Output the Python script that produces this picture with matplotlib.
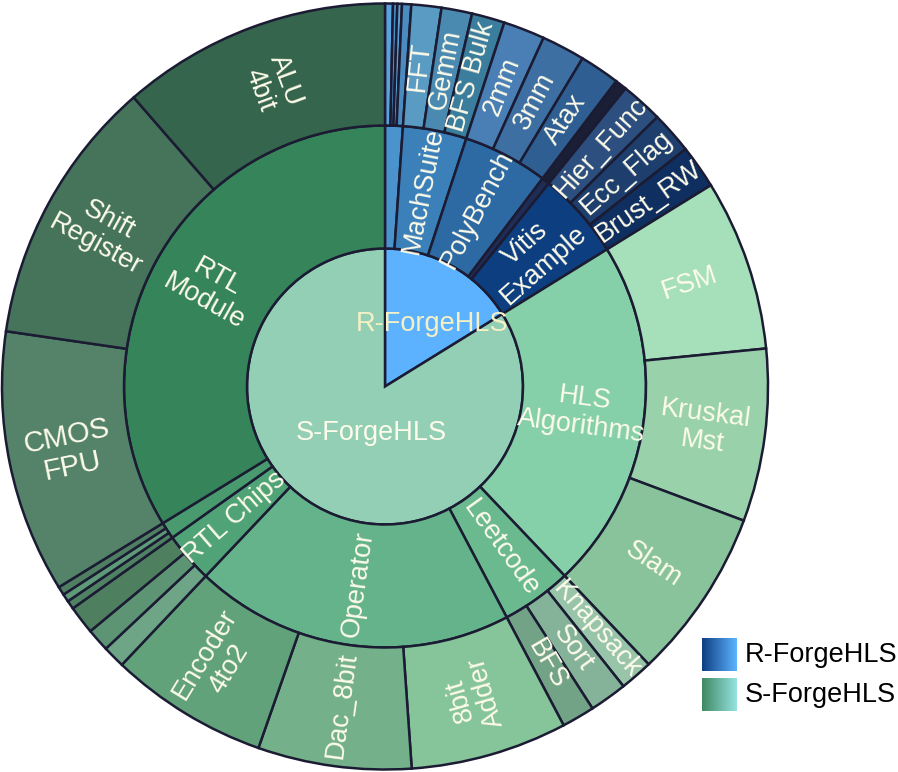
import numpy as np
import matplotlib.pyplot as plt
from matplotlib.patches import Wedge
from matplotlib.colors import LinearSegmentedColormap

plt.rcParams['font.family'] = ['Liberation Sans', 'DejaVu Sans']

# inner ring
top_labels = ['R-ForgeHLS', 'S-ForgeHLS']
top_colors = ['#5cb2ff', '#93cfb5']

# middle ring, clockwise from 12 o'clock
mid_labels = ['', 'MachSuite', 'PolyBench', '', 'Vitis\nExample',
              'HLS\nAlgorithms', 'Leetcode', 'Operator', 'RTL Chips', '', 'RTL\nModule']
mid_parent = [0, 0, 0, 0, 0, 1, 1, 1, 1, 1, 1]
mid_colors = ['#4a93cc', '#3b80b9', '#2d69a3', '#1f2c55', '#0d3f80',
              '#85d0a9', '#6ab98f', '#65b38a', '#4fa377', '#4a9a6f', '#36845a']

# outer ring (leaves)
leaf_labels = ['', '', '', '',
               'FFT', 'Gemm', 'BFS Bulk',
               '2mm', '3mm', 'Atax',
               '',
               'Hier_Func', 'Ecc_Flag', 'Brust_RW',
               'FSM', 'Kruskal\nMst', 'Slam',
               'Knapsack', 'Sort', 'BFS',
               '8bit\nAdder', 'Dac_8bit', 'Encoder\n4to2',
               '', '', '',
               '', '', '',
               'CMOS\nFPU', 'Shift\nRegister', 'ALU\n4bit']
leaf_parent = [0, 0, 0, 0,
               1, 1, 1,
               2, 2, 2,
               3,
               4, 4, 4,
               5, 5, 5,
               6, 6, 6,
               7, 7, 7,
               8, 8, 8,
               9, 9, 9,
               10, 10, 10]
leaf_values = [1.2, 0.65, 0.7, 1.4,
               4.55, 4.65, 5.0,
               6.3, 6.6, 6.1,
               1.75,
               6.4, 6.4, 6.6,
               26.0, 26.2, 26.0,
               5.0, 5.7, 5.0,
               23.8, 23.3, 24.1,
               3.4, 3.5, 4.3,
               1.3, 1.2, 1.3,
               39.9, 40.7, 41.0]
leaf_colors = ['#5aa3dc', '#4a8fc8', '#5b9fd3', '#4b8cc0',
               '#5a9bc4', '#4a8ab0', '#3a7d9c',
               '#4a7fb5', '#3d6fa3', '#2f5f92',
               '#1a1f35',
               '#2c4f80', '#1e3f6e', '#0f2f60',
               '#a6e0bb', '#98d1aa', '#88c39b',
               '#98c4aa', '#84b39a', '#73a387',
               '#86c49a', '#74b08a', '#62a27a',
               '#6fa587', '#5d9474', '#4e8060',
               '#4f8163', '#5f9a78', '#4f7e62',
               '#548369', '#45745b', '#35654c']

# labels that read the other way round
flipped = ['8bit\nAdder']
bigger = {'CMOS\nFPU': 21}

leaf_values = np.array(leaf_values)
mid_values = np.array([leaf_values[np.array(leaf_parent) == i].sum() for i in range(len(mid_labels))])
top_values = np.array([mid_values[np.array(mid_parent) == i].sum() for i in range(len(top_labels))])

W, H = 898, 772
cx, cy = 385, H - 386.5
r1, r2, r3 = 138, 261, 383
edge = '#1b1c33'
txt = '#fdfbea'
fs = 19.5

fig = plt.figure(figsize=(W / 100, H / 100), dpi=100)
ax = fig.add_axes([0, 0, 1, 1])
ax.set_xlim(0, W)
ax.set_ylim(0, H)
ax.set_aspect('equal')
ax.axis('off')


def ring(values, r_in, r_out, colors, labels, draw_labels=True):
    total = leaf_values.sum()
    ang = np.concatenate([[0], np.cumsum(values)]) / total * 360
    for i in range(len(values)):
        a, b = ang[i], ang[i + 1]
        ax.add_patch(Wedge((cx, cy), r_out, 90 - b, 90 - a, width=r_out - r_in,
                           facecolor=colors[i], edgecolor=edge, linewidth=1.8))
        if draw_labels and labels[i]:
            m = (a + b) / 2
            rr = (r_in + r_out) / 2
            rot = 90 - m
            while rot > 90:
                rot -= 180
            while rot <= -90:
                rot += 180
            if labels[i] in flipped:
                rot += 180
            ax.text(cx + rr * np.sin(np.radians(m)), cy + rr * np.cos(np.radians(m)),
                    labels[i], rotation=rot, rotation_mode='anchor', ha='center',
                    va='center', color=txt, fontsize=bigger.get(labels[i], fs),
                    linespacing=1.1)


ring(top_values, 0, r1, top_colors, top_labels, draw_labels=False)
ring(mid_values, r1, r2, mid_colors, mid_labels)
ring(leaf_values, r2, r3, leaf_colors, leaf_labels)

# centre labels
ax.text(cx + 78 * np.sin(np.radians(36.7)), cy + 78 * np.cos(np.radians(36.7)),
        top_labels[0], ha='center', va='center', color='#f6f1c5', fontsize=fs)
ax.text(cx + 49 * np.sin(np.radians(196.6)), cy + 49 * np.cos(np.radians(196.6)),
        top_labels[1], ha='center', va='center', color=txt, fontsize=fs)

# legend with gradient swatches
grads = [('#0e3f82', '#5cb3ff'), ('#3f8a62', '#95e2e2')]
ys = [638, 678]
for (c0, c1), y0, lab in zip(grads, ys, top_labels):
    sw = fig.add_axes([702 / W, 1 - (y0 + 33) / H, 35 / W, 33 / H])
    cmap = LinearSegmentedColormap.from_list('g', [c0, c1])
    sw.imshow(np.linspace(0, 1, 64)[None, :], aspect='auto', cmap=cmap)
    sw.axis('off')
    fig.text(745 / W, 1 - (y0 + 17) / H, lab, ha='left', va='center',
             fontsize=fs, color='black')

plt.savefig('out.png', dpi=100)
